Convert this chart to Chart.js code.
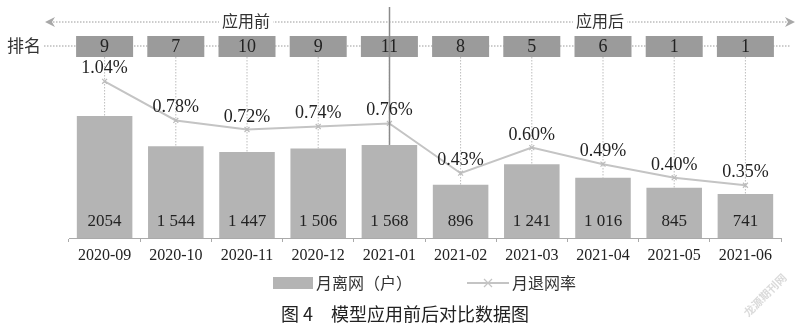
<!DOCTYPE html>
<html>
<head>
<meta charset="utf-8">
<script src="https://cdn.jsdelivr.net/npm/chart.js@4"></script>
<style>
html, body { margin: 0; padding: 0; background: #fff; }
#wrap { width: 800px; height: 329px; position: relative; }
</style>
</head>
<body>
<div id="wrap"><canvas id="myChart"></canvas></div>
<script>
/* Data */
var months = ['2020-09', '2020-10', '2020-11', '2020-12', '2021-01', '2021-02', '2021-03', '2021-04', '2021-05', '2021-06'];
var churnUsers = [2054, 1544, 1447, 1506, 1568, 896, 1241, 1016, 845, 741];
var churnUserLabels = ['2054', '1 544', '1 447', '1 506', '1 568', '896', '1 241', '1 016', '845', '741'];
var churnRate = [1.04, 0.78, 0.72, 0.74, 0.76, 0.43, 0.60, 0.49, 0.40, 0.35];
var ranks = [9, 7, 10, 9, 11, 8, 5, 6, 1, 1];
var phaseLabels = ['应用前', '应用后'];
var rankTitle = '排名';
var legendNames = ['月离网（户）', '月退网率'];
var caption = '图 4　模型应用前后对比数据图';
var watermark = '龙源期刊网';
/* End Data */

var serif = '"Liberation Serif", "Times New Roman", serif';
var cjk = '"Noto Sans CJK SC", sans-serif';

function dottedLine(ctx, x1, y1, x2, y2, color) {
    ctx.save();
    ctx.strokeStyle = color;
    ctx.lineWidth = 1;
    ctx.setLineDash([1.5, 1.5]);
    ctx.beginPath();
    ctx.moveTo(x1, y1);
    ctx.lineTo(x2, y2);
    ctx.stroke();
    ctx.restore();
}

/* Decorations: rank row, phase arrows, labels, legend, caption */
var decoPlugin = {
    id: 'deco',
    beforeDatasetsDraw: function(chart) {
        var ctx = chart.ctx;
        var xs = chart.scales.x;
        var barMeta = chart.getDatasetMeta(0);
        // vertical dotted from rank boxes to bar tops
        for (let i = 0; i < months.length; i++) {
            var cx = xs.getPixelForValue(i);
            dottedLine(ctx, cx, 57, cx, barMeta.data[i].y, '#bdbdbd');
        }
    },
    afterDatasetsDraw: function(chart) {
        var ctx = chart.ctx;
        var xs = chart.scales.x;
        var barMeta = chart.getDatasetMeta(0);
        var lineMeta = chart.getDatasetMeta(1);

        // top phase arrow line
        dottedLine(ctx, 47, 22, 792, 22, '#9a9a9a');
        ctx.save();
        ctx.fillStyle = '#a8a8a8';
        ctx.beginPath();
        ctx.moveTo(45, 22); ctx.lineTo(55, 17); ctx.lineTo(52, 22); ctx.lineTo(55, 27); ctx.closePath();
        ctx.fill();
        ctx.beginPath();
        ctx.moveTo(795, 22); ctx.lineTo(785, 17); ctx.lineTo(788, 22); ctx.lineTo(785, 27); ctx.closePath();
        ctx.fill();
        ctx.font = '16px ' + cjk;
        ctx.textAlign = 'center';
        ctx.textBaseline = 'middle';
        var phaseX = [246, 600];
        for (let i = 0; i < 2; i++) {
            var w = ctx.measureText(phaseLabels[i]).width;
            ctx.fillStyle = '#fff';
            ctx.fillRect(phaseX[i] - w / 2 - 3, 12, w + 6, 20);
            ctx.fillStyle = '#333';
            ctx.fillText(phaseLabels[i], phaseX[i], 21);
        }

        // rank row
        dottedLine(ctx, 44, 46, 790, 46, '#9a9a9a');
        ctx.font = '17px ' + cjk;
        ctx.textAlign = 'left';
        ctx.fillStyle = '#333';
        ctx.fillText(rankTitle, 7, 46);
        ctx.font = '18px ' + serif;
        ctx.textAlign = 'center';
        for (let i = 0; i < ranks.length; i++) {
            var cx = xs.getPixelForValue(i);
            ctx.fillStyle = '#9b9b9b';
            ctx.fillRect(cx - 28.5, 36, 57, 21);
            ctx.fillStyle = '#222';
            ctx.fillText(String(ranks[i]), cx, 47);
        }

        // divider between before / after
        ctx.strokeStyle = '#8a8a8a';
        ctx.lineWidth = 1.5;
        ctx.beginPath();
        ctx.moveTo(389.5, 7);
        ctx.lineTo(389.5, barMeta.data[4].y);
        ctx.stroke();

        // value labels
        ctx.fillStyle = '#222';
        ctx.textBaseline = 'alphabetic';
        for (let i = 0; i < months.length; i++) {
            var cx = xs.getPixelForValue(i);
            ctx.font = '17px ' + serif;
            ctx.fillText(churnUserLabels[i], cx, 226);
            var p = lineMeta.data[i];
            ctx.font = '18px ' + serif;
            ctx.fillText(churnRate[i].toFixed(2) + '%', cx, p.y - 8);
        }

        // legend
        ctx.fillStyle = '#b4b4b4';
        ctx.fillRect(273, 277, 40, 12);
        ctx.fillStyle = '#333';
        ctx.font = '16px ' + cjk;
        ctx.textAlign = 'left';
        ctx.textBaseline = 'middle';
        ctx.fillText(legendNames[0], 316, 283);
        ctx.strokeStyle = '#c4c4c4';
        ctx.lineWidth = 2;
        ctx.beginPath();
        ctx.moveTo(467, 283); ctx.lineTo(509, 283);
        ctx.stroke();
        ctx.lineWidth = 1.2;
        ctx.beginPath();
        ctx.moveTo(484, 279); ctx.lineTo(492, 287);
        ctx.moveTo(492, 279); ctx.lineTo(484, 287);
        ctx.stroke();
        ctx.fillText(legendNames[1], 512, 283);

        // caption
        ctx.font = '18px ' + cjk;
        ctx.textAlign = 'center';
        ctx.fillStyle = '#222';
        ctx.fillText(caption, 405, 314);

        // watermark
        ctx.save();
        ctx.translate(765, 295);
        ctx.rotate(-Math.PI / 4);
        ctx.font = 'bold 11px ' + cjk;
        ctx.fillStyle = 'rgba(150,150,150,0.35)';
        ctx.fillText(watermark, 0, 0);
        ctx.restore();
        ctx.restore();
    }
};

const config = {
    data: {
        labels: months,
        datasets: [
            {
                label: legendNames[0],
                type: 'bar',
                backgroundColor: '#b4b4b4',
                data: churnUsers,
                yAxisID: 'y',
                categoryPercentage: 1,
                barPercentage: 0.78,
                order: 2
            },
            {
                label: legendNames[1],
                type: 'line',
                borderColor: '#c4c4c4',
                borderWidth: 2,
                data: churnRate,
                yAxisID: 'y1',
                pointStyle: 'crossRot',
                pointRadius: 3.5,
                pointBorderColor: '#bcbcbc',
                pointBorderWidth: 1.2,
                tension: 0,
                order: 1
            }
        ]
    },
    options: {
        responsive: false,
        animation: false,
        devicePixelRatio: 1,
        layout: { padding: { left: 69, right: 19, top: 10, bottom: 61 } },
        plugins: {
            legend: { display: false },
            tooltip: { enabled: false }
        },
        scales: {
            x: {
                grid: { display: true, drawOnChartArea: false, drawTicks: true, tickLength: 4, color: '#aaaaaa', offset: true },
                border: { display: true, color: '#aaaaaa' },
                ticks: { color: '#222', font: { family: serif, size: 16 }, padding: 4 },
                afterFit: function(axis) { axis.height = 30; }
            },
            y: { display: false, min: 0, max: 3840 },
            y1: { display: false, min: 0, max: 1.513 }
        }
    },
    plugins: [decoPlugin]
};

var canvas = document.getElementById('myChart');
canvas.width = 800;
canvas.height = 329;
var myChart = new Chart(canvas, config);
</script>
</body>
</html>
